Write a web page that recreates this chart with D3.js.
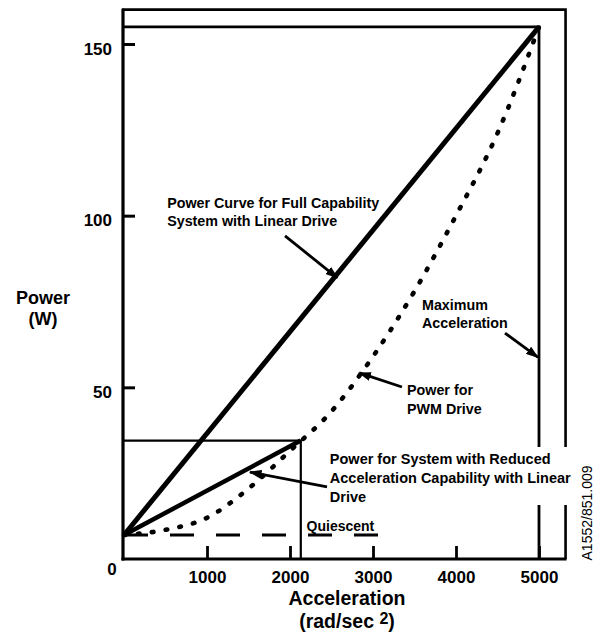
<!DOCTYPE html>
<html>
<head>
<meta charset="utf-8">
<script src="https://cdn.jsdelivr.net/npm/d3@7"></script>
<style>
body { margin: 0; background: #fff; }
svg { display: block; font-family: "Liberation Sans", Arial, sans-serif; }
</style>
</head>
<body>
<svg id="chart" width="597" height="639"></svg>
<script>
// Values
const accelTicks = [1000, 2000, 3000, 4000, 5000];
const powerTicks = [50, 100, 150];

const fullAccel = [0, 5000];
const fullPower = [7, 155];

const reducedAccel = [0, 2130];
const reducedPower = [7, 34.5];

const pwmAccel = [0, 500, 1000, 1500, 2000, 2500, 3000, 3500, 4000, 4500, 5000];
const pwmPower = [7, 8.5, 12, 20.5, 31.5, 43, 59, 78, 100, 124, 155];

const quiescentAccel = [0, 3100];
const quiescentPower = [7, 7];

const maxAccel = 5000;
const maxPower = 155;
const reducedMaxAccel = 2130;
const reducedMaxPower = 34.5;
const frameAccel = 5320;
const framePower = 160;

// annotation texts
const fullLabel = ['Power Curve for Full Capability', 'System with Linear Drive'];
const maxLabel = ['Maximum', 'Acceleration'];
const pwmLabel = ['Power for', 'PWM Drive'];
const reducedLabel = ['Power for System with Reduced', 'Acceleration Capability with Linear', 'Drive'];

const svg = d3.select('#chart');

const x = d3.scaleLinear().domain([0, 5000]).range([124, 539]);
const y = d3.scaleLinear().domain([0, 150]).range([559, 44]);

const line = d3.line()
    .x(d => x(d[0]))
    .y(d => y(d[1]));

const zip = (a, b) => a.map((v, i) => [v, b[i]]);

// arrow head
svg.append('defs').append('marker')
    .attr('id', 'arrow')
    .attr('viewBox', '0 0 10 7')
    .attr('refX', 9)
    .attr('refY', 3.5)
    .attr('markerWidth', 4.6)
    .attr('markerHeight', 3.2)
    .attr('orient', 'auto')
    .append('path')
    .attr('d', 'M0,0 L10,3.5 L0,7 Z')
    .attr('fill', '#000');

// frame
svg.append('path')
    .attr('d', `M${x(0) - 2},${y(framePower)} H${x(frameAccel)} V${y(0)}`)
    .attr('fill', 'none').attr('stroke', '#000').attr('stroke-width', 2.6);

// max power / max acceleration box
svg.append('path')
    .attr('d', `M${x(0)},${y(maxPower)} H${x(maxAccel)} V${y(0)}`)
    .attr('fill', 'none').attr('stroke', '#000').attr('stroke-width', 2.8);

// reduced capability box
svg.append('path')
    .attr('d', `M${x(0)},${y(reducedMaxPower)} H${x(reducedMaxAccel)} V${y(0)}`)
    .attr('fill', 'none').attr('stroke', '#000').attr('stroke-width', 2.2);

// axes
const yAxis = d3.axisLeft(y)
    .tickValues(powerTicks)
    .tickSizeInner(-12)
    .tickSizeOuter(0)
    .tickPadding(11)
    .tickFormat(d3.format('d'));

const gy = svg.append('g')
    .attr('transform', `translate(${x(0) - 1},0)`)
    .call(yAxis);
gy.select('.domain').remove();
gy.selectAll('.tick line').attr('stroke-width', 3);
gy.selectAll('.tick text')
    .attr('dy', '0.6em')
    .attr('font-size', 17)
    .attr('font-weight', 'bold')
    .attr('font-family', '"Liberation Sans", Arial, sans-serif');

const xAxis = d3.axisBottom(x)
    .tickValues(accelTicks)
    .tickSizeInner(-13)
    .tickSizeOuter(0)
    .tickPadding(12)
    .tickFormat(d3.format('d'));

const gx = svg.append('g')
    .attr('transform', `translate(0,${y(0)})`)
    .call(xAxis);
gx.select('.domain').remove();
gx.selectAll('.tick line').attr('stroke-width', 2.8);
gx.selectAll('.tick text')
    .attr('font-size', 17)
    .attr('font-weight', 'bold')
    .attr('font-family', '"Liberation Sans", Arial, sans-serif');

svg.append('line')
    .attr('x1', x(0) - 1).attr('x2', x(0) - 1)
    .attr('y1', y(framePower) - 1).attr('y2', y(0) + 1.5)
    .attr('stroke', '#000').attr('stroke-width', 3.2);
svg.append('line')
    .attr('x1', x(0) - 2.5).attr('x2', x(frameAccel) + 1)
    .attr('y1', y(0)).attr('y2', y(0))
    .attr('stroke', '#000').attr('stroke-width', 3.2);

svg.append('text')
    .attr('x', x(0) - 12).attr('y', y(0) + 16)
    .attr('text-anchor', 'middle')
    .attr('font-size', 17).attr('font-weight', 'bold')
    .text('0');

// quiescent power
svg.append('path')
    .attr('d', line(zip(quiescentAccel, quiescentPower)))
    .attr('fill', 'none').attr('stroke', '#000')
    .attr('stroke-width', 3).attr('stroke-dasharray', '24 22');

// PWM drive power
svg.append('path')
    .attr('d', line.curve(d3.curveMonotoneX)(zip(pwmAccel, pwmPower)))
    .attr('fill', 'none').attr('stroke', '#000')
    .attr('stroke-width', 4.6).attr('stroke-linecap', 'round')
    .attr('stroke-dasharray', '1.6 12.4');
line.curve(d3.curveLinear);

// linear drive, full and reduced capability
svg.append('path')
    .attr('d', line(zip(fullAccel, fullPower)))
    .attr('fill', 'none').attr('stroke', '#000').attr('stroke-width', 5);
svg.append('path')
    .attr('d', line(zip(reducedAccel, reducedPower)))
    .attr('fill', 'none').attr('stroke', '#000').attr('stroke-width', 4.5);

// annotations
function label(lines, at, gap, size) {
    const t = svg.append('text')
        .attr('font-size', size).attr('font-weight', 'bold');
    t.selectAll('tspan').data(lines).join('tspan')
        .attr('x', x(at[0]))
        .attr('y', (d, i) => y(at[1]) + i * gap)
        .text(d => d);
    return t;
}
function arrow(from, to) {
    svg.append('line')
        .attr('x1', x(from[0])).attr('y1', y(from[1]))
        .attr('x2', x(to[0])).attr('y2', y(to[1]))
        .attr('stroke', '#000').attr('stroke-width', 2.8)
        .attr('marker-end', 'url(#arrow)');
}

label(fullLabel, [520, 102.2], 18, 14.3);
arrow([1940, 94.1], [2570, 81.9]);

label(maxLabel, [3590, 72.5], 18, 14.3);
arrow([4590, 65.8], [4985, 58.8]);

label(pwmLabel, [3410, 47.7], 18.5, 14.3);
arrow([3349, 50.1], [2835, 54.2]);

// white patch where the reduced label crosses the vertical lines
svg.append('rect')
    .attr('x', x(2470)).attr('y', 447)
    .attr('width', 255).attr('height', 58)
    .attr('fill', '#fff');
label(reducedLabel, [2480, 27.8], 19, 14.5);
arrow([2446, 21], [1518, 25.3]);

svg.append('text')
    .attr('x', x(2200)).attr('y', y(8.2))
    .attr('font-size', 14).attr('font-weight', 'bold')
    .text('Quiescent');

// axis titles
svg.append('text')
    .attr('x', 43).attr('y', 304)
    .attr('text-anchor', 'middle')
    .attr('font-size', 18).attr('font-weight', 'bold')
    .text('Power');
svg.append('text')
    .attr('x', 43).attr('y', 325)
    .attr('text-anchor', 'middle')
    .attr('font-size', 18).attr('font-weight', 'bold')
    .text('(W)');

svg.append('text')
    .attr('x', 347).attr('y', 605)
    .attr('text-anchor', 'middle')
    .attr('font-size', 19.5).attr('font-weight', 'bold')
    .text('Acceleration');
const unit = svg.append('text')
    .attr('x', 347).attr('y', 628)
    .attr('text-anchor', 'middle')
    .attr('font-size', 19.5).attr('font-weight', 'bold');
unit.append('tspan').text('(rad/sec ');
unit.append('tspan').attr('dy', -4).attr('font-size', 16).text('2');
unit.append('tspan').attr('dy', 4).text(')');

svg.append('text')
    .attr('transform', 'translate(592,513) rotate(-90)')
    .attr('text-anchor', 'middle')
    .attr('font-size', 14)
    .text('A1552/851.009');
</script>
</body>
</html>
